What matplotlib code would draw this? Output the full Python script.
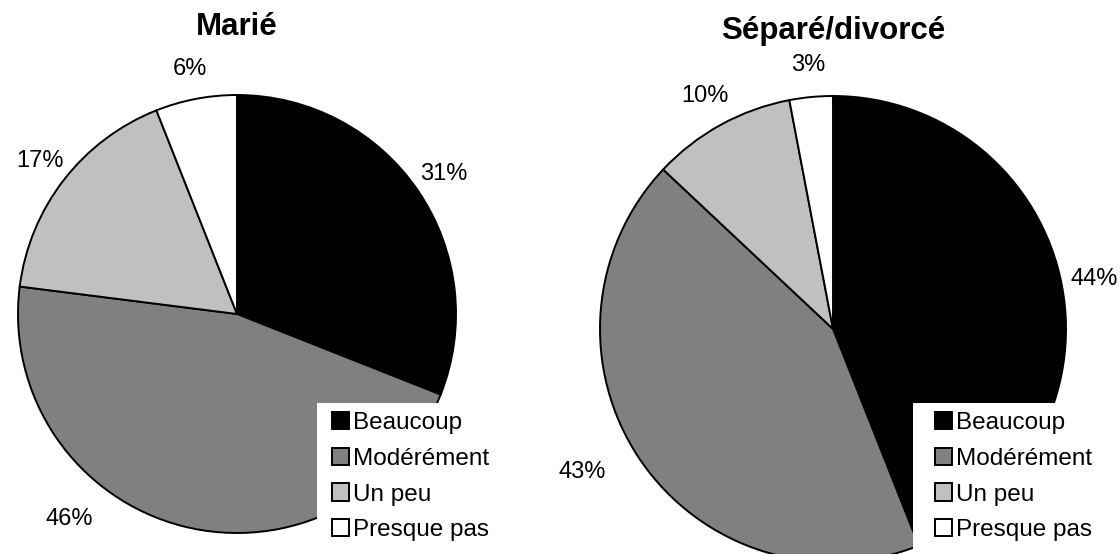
#Two pie charts: Marié vs Séparé/divorcé
import matplotlib.pyplot as plt
from matplotlib.patches import Rectangle
import numpy as np

plt.rcParams['font.family'] = ['Liberation Sans', 'DejaVu Sans']

#Data
categories = ['Beaucoup', 'Modérément', 'Un peu', 'Presque pas']
marie = [31, 46, 17, 6]
separe = [44, 43, 10, 3]
titles = ['Marié', 'Séparé/divorcé']

colours = ['#000000', '#808080', '#c0c0c0', '#ffffff']

W, H = 1120, 554
fig = plt.figure(figsize=(W/100, H/100), dpi=100)

#pie centre and radius in pixels (from top left), label tweaks (angle shift, distance)
#leg = (box left, box top, first square left)
pies = [
    dict(vals=marie, title=titles[0], cx=237, cy=314, r=219, ty=27,
         tweak={1: (-25, 1.21)}, leg=(317, 403, 332)),
    dict(vals=separe, title=titles[1], cx=833, cy=329, r=233, ty=31,
         tweak={1: (-4.5, 1.24)}, leg=(913, 403, 935)),
]

for p in pies:
    cx, cy, r = p['cx'], p['cy'], p['r']
    ax = fig.add_axes([(cx-r)/W, (H-cy-r)/H, 2*r/W, 2*r/H])
    wedges, _ = ax.pie(p['vals'], colors=colours, startangle=90, counterclock=False,
                       wedgeprops=dict(edgecolor='black', linewidth=1.4))
    ax.set_xlim(-1, 1)
    ax.set_ylim(-1, 1)
    ax.set_aspect('equal')
    ax.axis('off')

    #percentage labels
    total = float(sum(p['vals']))
    cum = np.cumsum([0] + p['vals'])
    for i, v in enumerate(p['vals']):
        mid = 90 - (cum[i] + v/2.0)/total*360
        shift, dist = p['tweak'].get(i, (0, 1.14))
        a = np.radians(mid + shift)
        ax.text(dist*np.cos(a), dist*np.sin(a), '%d%%' % round(100*v/total),
                ha='center', va='center', fontsize=17, clip_on=False)

    fig.text(cx/W, 1 - p['ty']/H, p['title'], ha='center', va='center',
             fontsize=22.5, fontweight='bold')

    #white legend box
    bx, by, sx = p['leg']
    fig.patches.append(Rectangle((bx/W, 0), (sx - bx + 20)/W, (H - by)/H,
                                 transform=fig.transFigure, facecolor='white',
                                 edgecolor='none', zorder=2))
    leg = fig.legend(wedges, categories, loc='upper left',
                     bbox_to_anchor=((sx - 9)/W, 1 - by/H), fontsize=17.5,
                     frameon=True, fancybox=False, framealpha=1,
                     handlelength=0.7, handleheight=0.7, handletextpad=0.17,
                     labelspacing=0.56, borderpad=0.38, borderaxespad=0)
    leg.get_frame().set_edgecolor('none')
    leg.get_frame().set_facecolor('white')
    leg.set_zorder(5)
    for h in leg.legend_handles:
        h.set_linewidth(1.4)

fig.savefig('out.png', dpi=100)
